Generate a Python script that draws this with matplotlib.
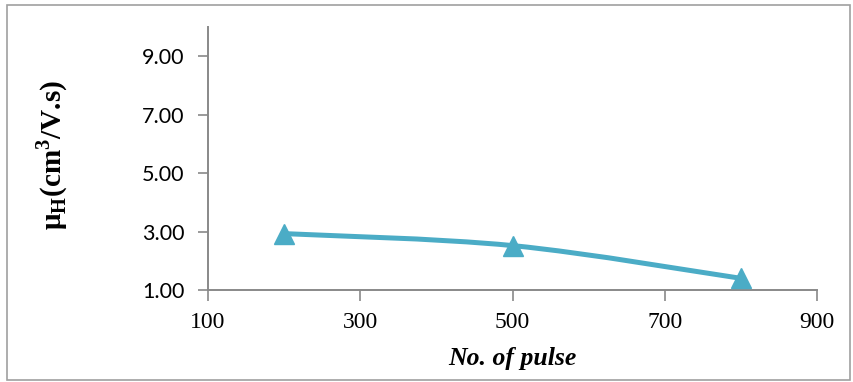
import numpy as np
import matplotlib
matplotlib.use("Agg")
import matplotlib.pyplot as plt
from matplotlib.path import Path
from matplotlib.patches import PathPatch, Rectangle

# data
pulses = [200, 500, 800]
mobility = [2.93, 2.52, 1.40]
xticks = [100, 300, 500, 700, 900]
yticks = [1, 3, 5, 7, 9]

plt.rcParams['mathtext.fontset'] = 'custom'
plt.rcParams['mathtext.rm'] = 'Liberation Serif:bold'
plt.rcParams['mathtext.bf'] = 'Liberation Serif:bold'

col = '#4bacc6'
grey = '#898989'

fig = plt.figure(figsize=(8.54, 3.82), dpi=100)
ax = fig.add_axes([0.2436, 0.2408, 0.9567 - 0.2436, 0.9293 - 0.2408])

# outer chart frame
fig.patches.append(Rectangle((7 / 854, 2 / 382), 843 / 854, 375 / 382,
                             transform=fig.transFigure, fill=False,
                             edgecolor='#a0a0a0', lw=1.2))

# smoothed line (Excel style bezier through the points)
x = np.array(pulses, float)
y = np.array(mobility, float)
verts = [(x[0], y[0])]
codes = [Path.MOVETO]
n = len(x)
for i in range(n - 1):
    p0 = (x[max(i - 1, 0)], y[max(i - 1, 0)])
    p1 = (x[i], y[i])
    p2 = (x[i + 1], y[i + 1])
    p3 = (x[min(i + 2, n - 1)], y[min(i + 2, n - 1)])
    c1 = (p1[0] + (p2[0] - p0[0]) / 6, p1[1] + (p2[1] - p0[1]) / 6)
    c2 = (p2[0] - (p3[0] - p1[0]) / 6, p2[1] - (p3[1] - p1[1]) / 6)
    verts += [c1, c2, p2]
    codes += [Path.CURVE4] * 3
ax.add_patch(PathPatch(Path(verts, codes), fill=False, edgecolor=col,
                       lw=3.6, capstyle='round', zorder=2))
ax.plot(pulses, mobility, linestyle='none', marker='^', markersize=14,
        color=col, zorder=3, clip_on=False)

ax.set_xlim(100, 900)
ax.set_ylim(1, 10)
ax.set_xticks(xticks)
ax.set_yticks(yticks)
ax.set_yticklabels(['%.2f' % v for v in yticks], fontsize=15.5, family='Lato')
ax.set_xticklabels([str(v) for v in xticks], fontsize=17,
                   family='Liberation Serif')

for s in ['top', 'right']:
    ax.spines[s].set_visible(False)
for s in ['left', 'bottom']:
    ax.spines[s].set_color(grey)
    ax.spines[s].set_linewidth(1.4)
ax.tick_params(axis='y', length=7, width=1.2, color=grey, pad=10, labelcolor='black')
ax.tick_params(axis='x', length=8, width=1.2, color=grey, pad=8, labelcolor='black')

ax.set_xlabel('No. of pulse', fontsize=18.5, family='Liberation Serif',
              fontweight='bold', style='italic', labelpad=10)
fig.text(0.061, 0.594, r'μ$_{\mathrm{H}}$(cm$^{3}$/V.s)', rotation=90,
         fontsize=21, family='Liberation Serif', fontweight='bold',
         ha='center', va='center')

fig.savefig('out.png', dpi=100)
